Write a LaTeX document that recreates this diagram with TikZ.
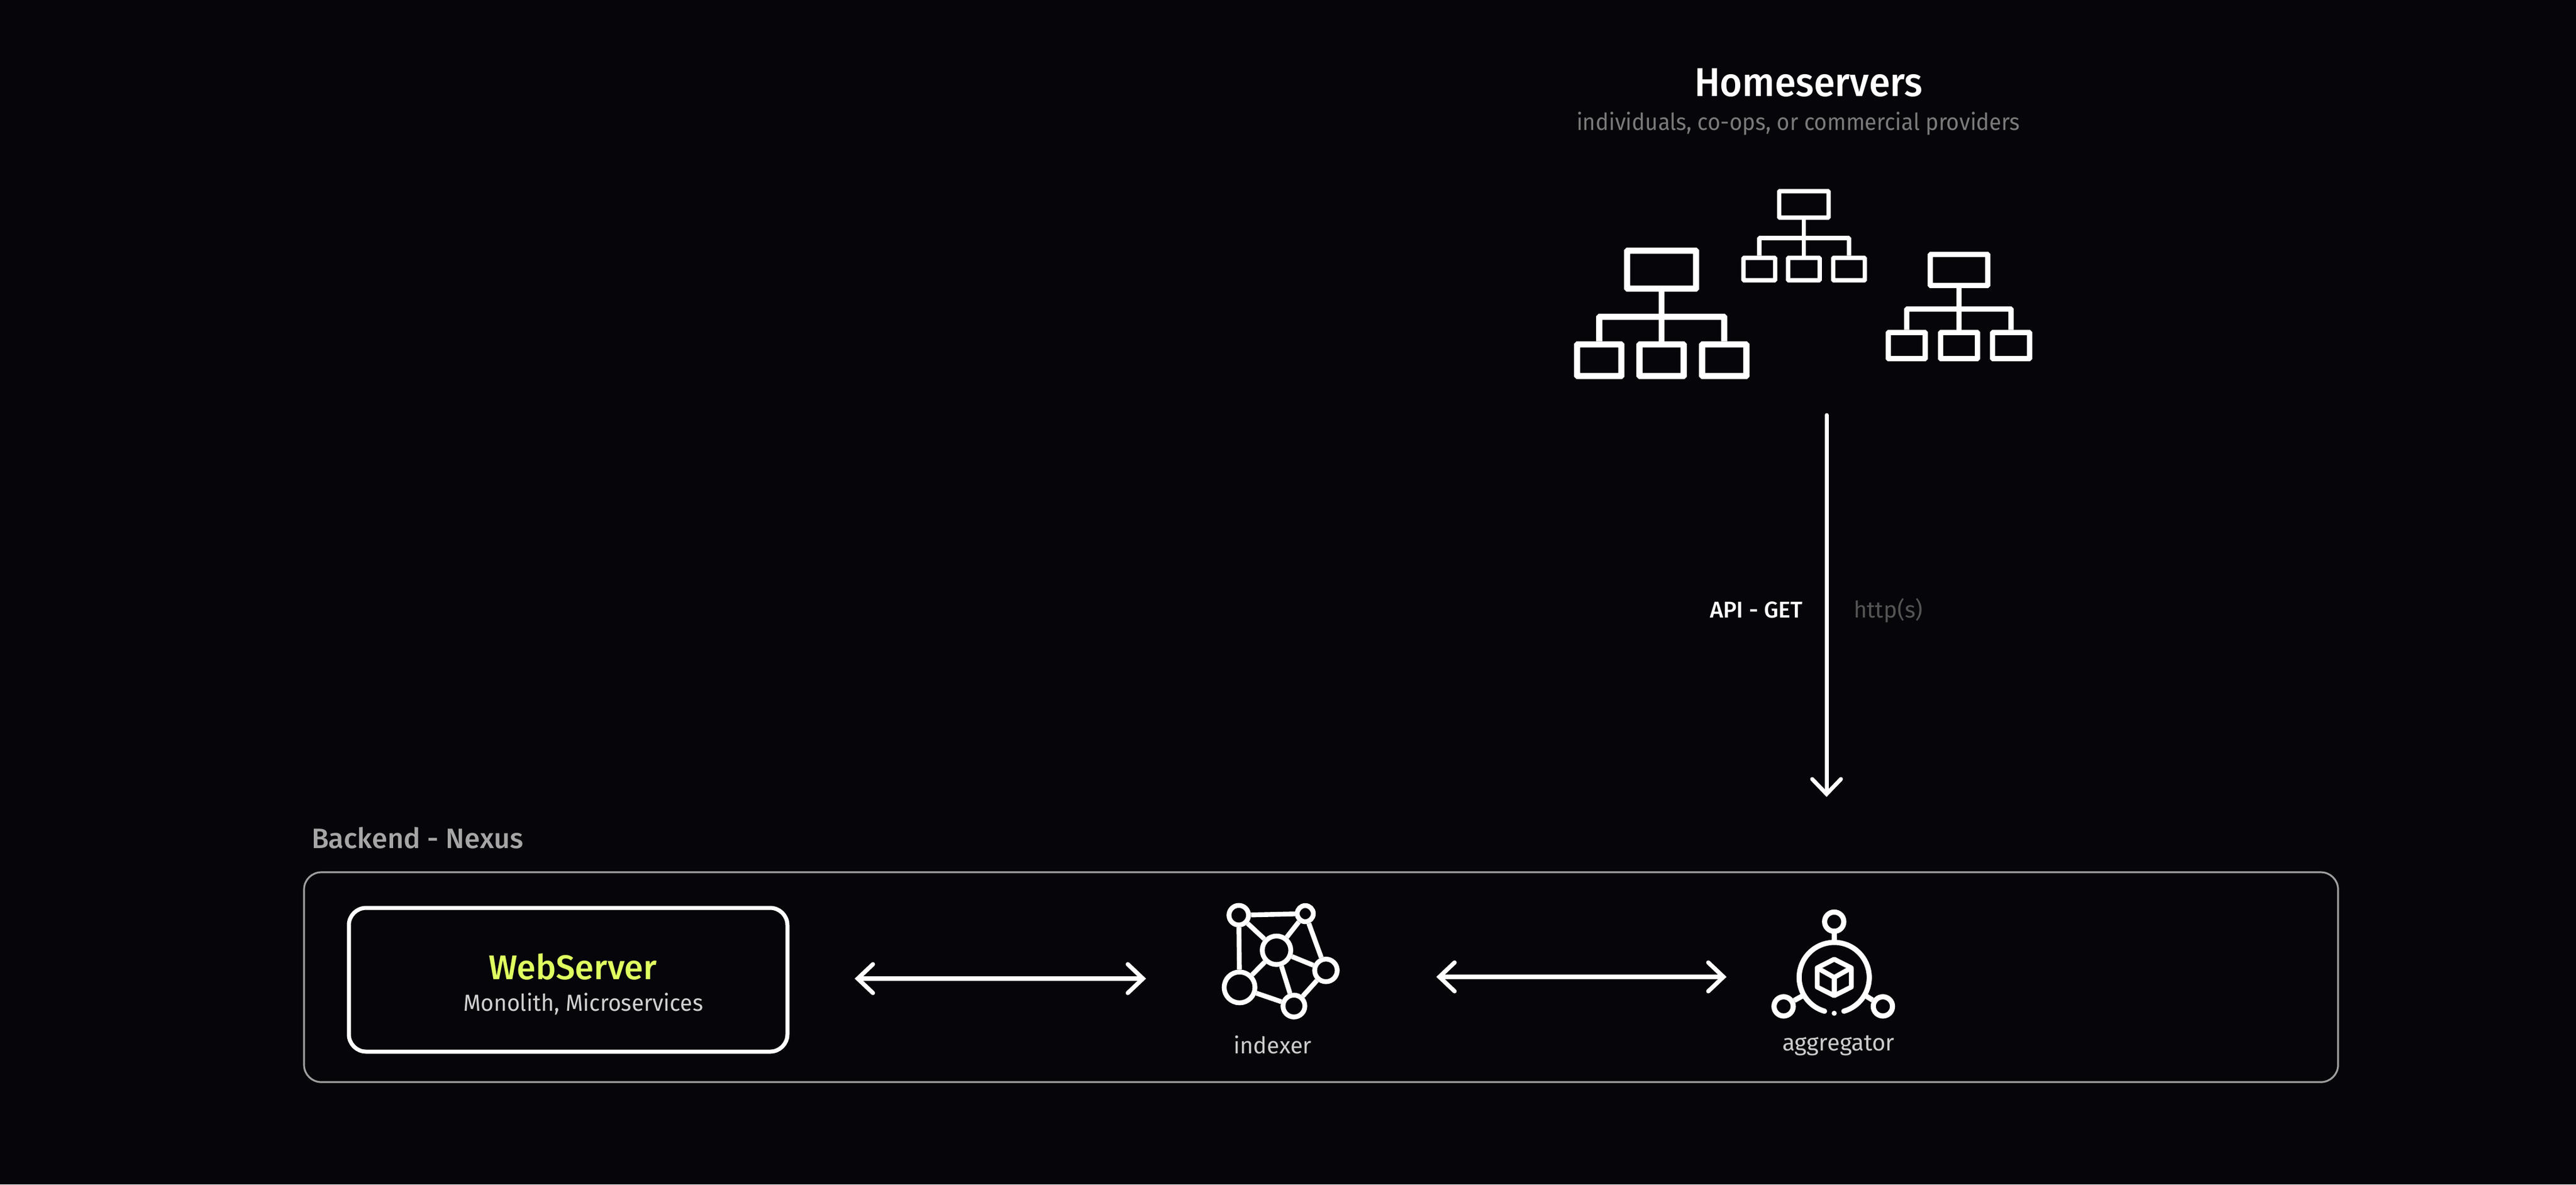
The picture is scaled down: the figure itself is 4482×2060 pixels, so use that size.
\documentclass[tikz,border=0pt]{standalone}
\usepackage{fontspec}
\setmainfont{Fira Sans}
\newfontfamily\medfont{Fira Sans Medium}
\newfontfamily\titlefont[FakeStretch=0.95]{Fira Sans Medium}
\newfontfamily\subfont[FakeStretch=0.94]{Fira Sans}
\newfontfamily\monofont[FakeStretch=0.967]{Fira Sans}
\usetikzlibrary{arrows.meta}
\definecolor{bgc}{HTML}{05050A}
\definecolor{limec}{HTML}{DFFF60}
\tikzset{
  txt/.style={inner sep=0pt,outer sep=0pt,anchor=base west,text=white},
  tbox/.style={draw=white,fill=none,inner sep=0pt,rectangle,rounded corners=0.3pt},
  ring/.style={draw=white,circle,inner sep=0pt},
  wire/.style={draw=white,line cap=butt},
  flow/.style={draw=white,line width=1.85pt,line cap=round,{Straight Barb[length=6.6pt,width=12.5pt,line cap=round]}-{Straight Barb[length=6.6pt,width=12.5pt,line cap=round]}},
  down/.style={draw=white,line width=1.75pt,line cap=round,-{Straight Barb[length=6.5pt,width=12.5pt,line cap=round]}}
}
\begin{document}
\begin{tikzpicture}[x=0.25pt,y=0.25pt,yscale=-1]
\useasboundingbox (0,0) rectangle (4482,2060);
\fill[bgc] (0,0) rectangle (4482,2060);

% texts
\node[txt] (hs) at (2948,167) {\titlefont\fontsize{17.5pt}{20pt}\selectfont Homeservers};
\node[txt,text=white!48!black] (hssub) at (2743,226) {\subfont\fontsize{10.2pt}{12pt}\selectfont individuals, co-ops, or commercial providers};
\node[txt] (api) at (2975,1074) {\medfont\fontsize{9.9pt}{12pt}\selectfont API - GET};
\node[txt,text=white!33!black] (http) at (3225,1074) {\fontsize{10pt}{12pt}\selectfont http(s)};
\node[txt,text=white!65!black] (backend) at (542,1475) {\medfont\fontsize{12.2pt}{14pt}\selectfont Backend - Nexus};

% tree A
\begin{scope}[line width=2.7pt]
\node[tbox,minimum width=30pt,minimum height=16.5pt] (a0) at (2891,469) {};
\node[tbox,minimum width=19.25pt,minimum height=13.75pt] (a1) at (2782.5,626.5) {};
\node[tbox,minimum width=19.25pt,minimum height=13.75pt] (a2) at (2891,626.5) {};
\node[tbox,minimum width=19.25pt,minimum height=13.75pt] (a3) at (3000,626.5) {};
\coordinate (ab) at (2891,551);
\draw[wire] (a0.south) -- (a2.north);
\draw[wire,rounded corners=0.3pt] (a1.north) |- (ab) -| (a3.north);
\end{scope}

% tree B
\begin{scope}[line width=1.9pt]
\node[tbox,minimum width=21.5pt,minimum height=11.5pt] (b0) at (3138.5,355.5) {};
\node[tbox,minimum width=13.75pt,minimum height=9.75pt] (b1) at (3061,468) {};
\node[tbox,minimum width=13.75pt,minimum height=9.75pt] (b2) at (3138.5,468) {};
\node[tbox,minimum width=13.75pt,minimum height=9.75pt] (b3) at (3217,468) {};
\coordinate (bb) at (3138.5,414);
\draw[wire] (b0.south) -- (b2.north);
\draw[wire,rounded corners=0.3pt] (b1.north) |- (bb) -| (b3.north);
\end{scope}

% tree C
\begin{scope}[line width=2.3pt]
\node[tbox,minimum width=25pt,minimum height=13.5pt] (c0) at (3408.5,469.5) {};
\node[tbox,minimum width=16.1pt,minimum height=11.4pt] (c1) at (3317.5,601) {};
\node[tbox,minimum width=16.1pt,minimum height=11.4pt] (c2) at (3408.5,601) {};
\node[tbox,minimum width=16.1pt,minimum height=11.4pt] (c3) at (3499,601) {};
\coordinate (cb) at (3408.5,537.5);
\draw[wire] (c0.south) -- (c2.north);
\draw[wire,rounded corners=0.3pt] (c1.north) |- (cb) -| (c3.north);
\end{scope}

% vertical arrow
\coordinate (hsout) at (3178,722);
\coordinate (nexusin) at (3178,1386);
\draw[down] (hsout) -- (nexusin);

% backend frame
\node[draw=white!62!black,line width=0.8pt,rectangle,rounded corners=7.5pt,inner sep=0pt,minimum width=884.75pt,minimum height=91.25pt] (nexus) at (2298.5,1699.5) {};

% webserver
\node[draw=white,line width=1.75pt,rectangle,rounded corners=7.5pt,inner sep=0pt,minimum width=190.75pt,minimum height=62.5pt] (web) at (988.5,1704) {};
\node[txt,text=limec] (webt) at (850,1703) {\medfont\fontsize{14.9pt}{18pt}\selectfont WebServer};
\node[txt,text=white!82!black] (webs) at (806,1758) {\monofont\fontsize{10.1pt}{12pt}\selectfont Monolith, Microservices};

% arrows between stages
\coordinate (webout) at (1487,1702);
\coordinate (idxin) at (1994,1702);
\coordinate (idxout) at (2499,1699);
\coordinate (aggin) at (3004,1699);
\draw[flow] (webout) -- (idxin);
\draw[flow] (idxout) -- (aggin);

% indexer icon
\begin{scope}[line width=2.1pt]
\node[ring,minimum size=8.5pt] (n1) at (2155.3,1591.7) {};
\node[ring,minimum size=7pt] (n2) at (2271,1589) {};
\node[ring,minimum size=12.4pt] (n3) at (2221,1652.7) {};
\node[ring,minimum size=9.8pt] (n4) at (2307,1687.7) {};
\node[ring,minimum size=13.4pt] (n5) at (2156.7,1717.3) {};
\node[ring,minimum size=9.5pt] (n6) at (2251.3,1749.7) {};
\draw[wire] (n1) -- (n2);
\draw[wire] (n1) -- (n3);
\draw[wire] (n1) -- (n5);
\draw[wire] (n2) -- (n3);
\draw[wire] (n2) -- (n4);
\draw[wire] (n3) -- (n4);
\draw[wire] (n3) -- (n5);
\draw[wire] (n3) -- (n6);
\draw[wire] (n4) -- (n6);
\draw[wire] (n5) -- (n6);
\end{scope}
\node[txt,text=white!80!black] (idxt) at (2146,1832) {\fontsize{10pt}{12pt}\selectfont indexer};

% aggregator icon
\coordinate (agc) at (3191.3,1700);
\begin{scope}[line width=2.25pt]
\draw[white,line cap=round] (agc) ++(106:61) arc[start angle=106,end angle=434,radius=15.25pt];
\node[ring,minimum size=8.35pt] (gt) at (3191.3,1603) {};
\node[ring,minimum size=8.35pt] (gl) at (3103.3,1750.3) {};
\node[ring,minimum size=8.35pt] (gr) at (3276,1750.3) {};
\coordinate (gte) at (3191.3,1639);
\coordinate (gle) at (3138,1731);
\coordinate (gre) at (3244.6,1731);
\draw[wire] (gt) -- (gte);
\draw[wire] (gl) -- (gle);
\draw[wire] (gr) -- (gre);
\end{scope}
\fill[white] (3191.3,1762.3) circle[radius=1.1pt];
\begin{scope}[line width=2.1pt,line join=round]
\draw[white] (3191.3,1668.3) -- (3221,1683.3) -- (3221,1716.7) -- (3191.3,1731.7) -- (3161.7,1716.7) -- (3161.7,1683.3) -- cycle;
\draw[white] (3161.7,1683.3) -- (agc) -- (3221,1683.3);
\draw[white] (agc) -- (3191.3,1731.7);
\end{scope}
\node[txt,text=white!80!black] (aggt) at (3101,1827) {\fontsize{10.1pt}{12pt}\selectfont aggregator};
\end{tikzpicture}
\end{document}
